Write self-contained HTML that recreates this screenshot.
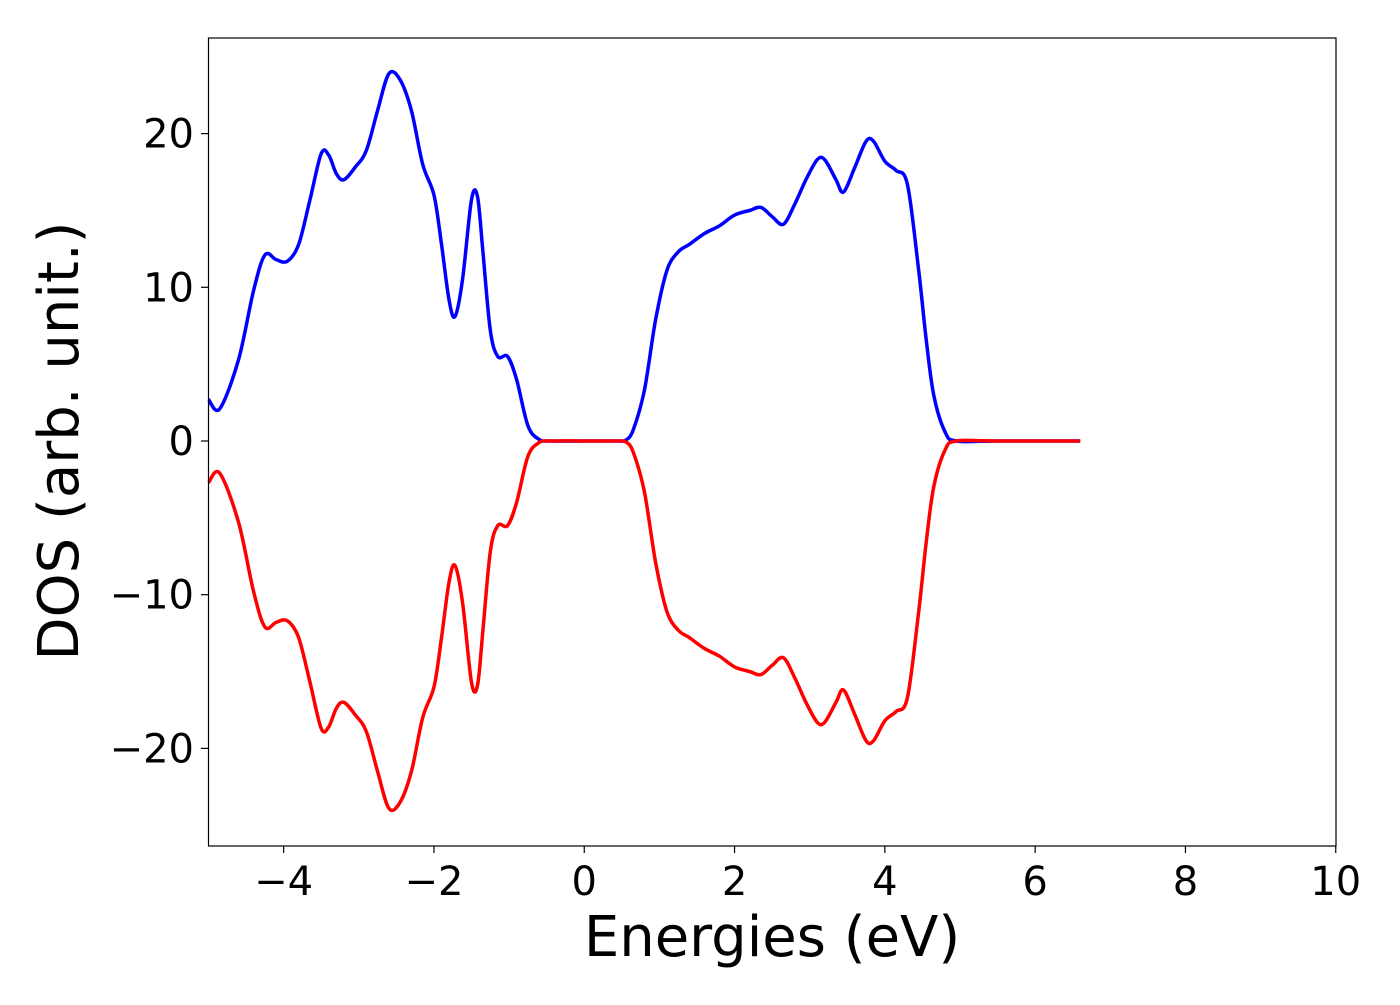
<!DOCTYPE html>
<html><head><meta charset="utf-8"><style>
body{margin:0;background:#fff;width:1400px;height:1000px;overflow:hidden}
svg text{font-family:"DejaVu Sans","Liberation Sans",sans-serif;fill:#000}
</style></head><body>
<svg id="chart" width="1400" height="1000" viewBox="0 0 1400 1000" xmlns="http://www.w3.org/2000/svg">
<g id="ticks"></g>
<g id="series"></g>
<rect x="208.5" y="38" width="1127.5" height="808" fill="none" stroke="#000" stroke-width="1.2"/>
<text x="772" y="956" font-size="56" text-anchor="middle">Energies (eV)</text>
<text transform="translate(78,441) rotate(-90)" font-size="56" text-anchor="middle">DOS (arb. unit.)</text>
</svg>
<script>
const energies=[-5,-4.85,-4.6,-4.4,-4.25,-4.1,-3.95,-3.8,-3.65,-3.5,-3.4,-3.3,-3.2,-3.05,-2.9,-2.75,-2.6,-2.45,-2.3,-2.15,-2.0,-1.9,-1.8,-1.72,-1.62,-1.5,-1.42,-1.35,-1.25,-1.15,-1.02,-0.9,-0.75,-0.6,-0.45,0,0.45,0.55,0.65,0.8,0.95,1.1,1.25,1.4,1.6,1.8,2.0,2.2,2.35,2.5,2.65,2.8,2.95,3.1,3.2,3.35,3.45,3.6,3.75,3.85,4.0,4.15,4.3,4.45,4.55,4.65,4.8,4.95,5.5,6.6];
const dosUp=[2.7,2.1,5.3,9.8,12.1,11.8,11.7,12.8,15.7,18.7,18.6,17.4,17.0,17.8,18.9,21.5,23.9,23.5,21.5,18.0,16.0,12.8,9.2,8.1,10.5,15.7,15.9,12.4,7.2,5.5,5.5,4.0,1.0,0.1,0,0,0,0.05,0.7,3.3,7.9,11.1,12.3,12.8,13.5,14.0,14.7,15.0,15.2,14.6,14.1,15.4,17.0,18.3,18.3,17.0,16.2,17.8,19.5,19.5,18.2,17.6,16.7,11.1,6.6,3.0,0.6,0,0,0];
const dosDown=[-2.7,-2.1,-5.3,-9.8,-12.1,-11.8,-11.7,-12.8,-15.7,-18.7,-18.6,-17.4,-17.0,-17.8,-18.9,-21.5,-23.9,-23.5,-21.5,-18.0,-16.0,-12.8,-9.2,-8.1,-10.5,-15.7,-15.9,-12.4,-7.2,-5.5,-5.5,-4.0,-1.0,-0.1,0,0,0,-0.05,-0.7,-3.3,-7.9,-11.1,-12.3,-12.8,-13.5,-14.0,-14.7,-15.0,-15.2,-14.6,-14.1,-15.4,-17.0,-18.3,-18.3,-17.0,-16.2,-17.8,-19.5,-19.5,-18.2,-17.6,-16.7,-11.1,-6.6,-3.0,-0.6,0,0,0];
const xTicks=[-4,-2,0,2,4,6,8,10];
const yTicks=[-20,-10,0,10,20];
const X=v=>208.5+(v+5)*75.15;
const Y=v=>441-v*15.37;
const NS="http://www.w3.org/2000/svg";
const tg=document.getElementById('ticks'), sg=document.getElementById('series');
const fmt=v=>v<0?'\u2212'+Math.abs(v):''+v;
xTicks.forEach(t=>{
 const l=document.createElementNS(NS,'line');
 
 
 l.setAttribute('x1',X(t));l.setAttribute('x2',X(t));l.setAttribute('y1',846);l.setAttribute('y2',853);l.setAttribute('stroke','#000');l.setAttribute('stroke-width','1.2');tg.appendChild(l);
 const tx=document.createElementNS(NS,'text');
 
 
 tx.setAttribute('x',X(t));tx.setAttribute('y',895);tx.setAttribute('font-size','40');tx.setAttribute('text-anchor','middle');tx.textContent=fmt(t);tg.appendChild(tx);
});
yTicks.forEach(t=>{
 const l=document.createElementNS(NS,'line');
 
 
 l.setAttribute('x1',201);l.setAttribute('x2',208.5);l.setAttribute('y1',Y(t));l.setAttribute('y2',Y(t));l.setAttribute('stroke','#000');l.setAttribute('stroke-width','1.2');tg.appendChild(l);
 const tx=document.createElementNS(NS,'text');
 
 
 tx.setAttribute('x',194);tx.setAttribute('y',Y(t)+14);tx.setAttribute('font-size','40');tx.setAttribute('text-anchor','end');tx.textContent=fmt(t);tg.appendChild(tx);
});
function smooth(xs,ys){
 const p=xs.map((x,i)=>[X(x),Y(ys[i])]);
 let d='M'+p[0][0]+','+p[0][1];
 for(let i=0;i<p.length-1;i++){
  const p0=p[Math.max(0,i-1)],p1=p[i],p2=p[i+1],p3=p[Math.min(p.length-1,i+2)];
  const c1=[p1[0]+(p2[0]-p0[0])/6,p1[1]+(p2[1]-p0[1])/6];
  const c2=[p2[0]-(p3[0]-p1[0])/6,p2[1]-(p3[1]-p1[1])/6];
  d+=' C'+c1[0].toFixed(1)+','+c1[1].toFixed(1)+' '+c2[0].toFixed(1)+','+c2[1].toFixed(1)+' '+p2[0].toFixed(1)+','+p2[1].toFixed(1);
 }
 return d;
}
const up=document.createElementNS(NS,'path');


up.setAttribute('d',smooth(energies,dosUp));up.setAttribute('fill','none');up.setAttribute('stroke','#0000ff');up.setAttribute('stroke-width','3.5');sg.appendChild(up);
const dn=document.createElementNS(NS,'path');


dn.setAttribute('d',smooth(energies,dosDown));dn.setAttribute('fill','none');dn.setAttribute('stroke','#ff0000');dn.setAttribute('stroke-width','3.5');sg.appendChild(dn);
</script>
</body></html>
